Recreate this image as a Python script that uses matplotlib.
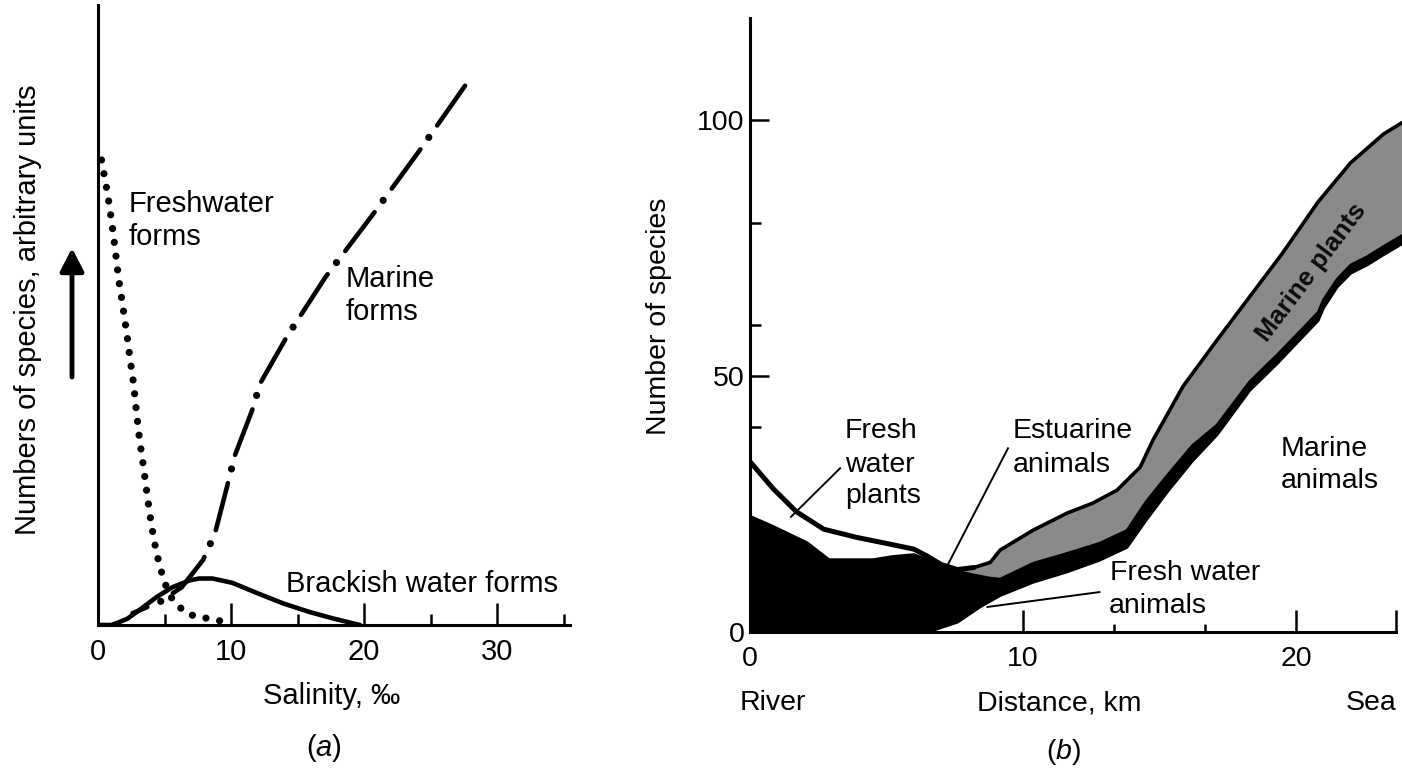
import numpy as np
import matplotlib
matplotlib.use('Agg')
import matplotlib.pyplot as plt

plt.rcParams['font.family'] = ['Liberation Sans', 'DejaVu Sans']
plt.rcParams['lines.scale_dashes'] = False
plt.rcParams['mathtext.fontset'] = 'custom'
plt.rcParams['mathtext.rm'] = 'Liberation Sans'
plt.rcParams['mathtext.it'] = 'Liberation Sans:italic'

# ---- panel (a): salinity vs number of species (arbitrary units)
fresh_x = [0.26, 0.71, 1.02, 1.28, 1.54, 1.84, 2.14, 2.41, 2.67, 2.89, 3.12, 3.42,
           3.72, 4.02, 4.40, 4.92, 5.38, 5.98, 6.65, 7.48, 8.53, 9.51]
fresh_y = [75.0, 69.7, 65.2, 60.8, 56.0, 51.8, 47.4, 42.9, 39.0, 34.4, 30.0, 25.5,
           20.6, 16.1, 11.6, 7.4, 4.8, 3.2, 1.9, 1.3, 1.0, 0.5]

marine_x = [2.6, 4.7, 6.3, 7.9, 8.8, 9.7, 10.3, 11.6, 12.2, 14.2, 17.1, 20.8, 24.3, 27.9]
marine_y = [1.9, 3.8, 6.1, 10.5, 14.8, 22.3, 27.4, 34.7, 39.0, 46.5, 56.1, 66.6, 76.9, 87.9]

brack_x = [0, 1.0, 1.4, 2.2, 3.1, 4.4, 5.6, 6.9, 7.6, 8.6, 10.1, 11.9, 13.9, 15.9, 17.6, 19.1, 19.7]
brack_y = [0, 0, 0.3, 1.0, 2.4, 4.5, 6.1, 7.2, 7.5, 7.5, 6.8, 5.2, 3.5, 2.1, 1.1, 0.3, 0]

# ---- panel (b): distance along estuary vs number of species
fwp_x = [0, 0.85, 1.7, 2.7, 3.9, 5.1, 6.0, 6.5, 7.0, 7.6, 8.2]
fwp_y = [33.3, 28.0, 23.5, 20.1, 18.5, 17.2, 16.2, 14.8, 13.2, 12.2, 12.6]

mplant_x = [7.6, 8.2, 8.8, 9.16, 10.37, 11.6, 12.56, 13.44, 14.29, 14.76, 15.86,
            17.1, 18.3, 19.5, 20.8, 22.0, 23.2, 23.9]
mplant_y = [12.2, 12.6, 13.6, 16.0, 19.9, 23.2, 25.2, 27.7, 32.2, 37.5, 48.0,
            57.0, 65.5, 74.0, 84.0, 91.7, 97.3, 99.6]

black_x = [0, 0.85, 2.1, 2.9, 4.5, 5.2, 6.0, 6.7, 7.4, 8.2, 8.8, 9.16, 10.37, 11.6,
           12.8, 13.8, 14.5, 15.3, 16.2, 17.1, 18.3, 19.3, 20.1, 20.8, 21.0, 21.5,
           22.0, 22.6, 23.2, 23.9]
black_y = [22.7, 20.7, 17.5, 14.2, 14.2, 14.8, 15.2, 13.8, 12.2, 11.2, 10.6, 10.4, 13.5, 15.4,
           17.4, 19.9, 25.5, 30.8, 36.5, 40.5, 49.0, 54.2, 58.6, 62.5, 65.0, 69.0,
           71.8, 73.4, 75.4, 77.6]

manim_x = [0, 6.2, 6.7, 7.6, 8.4, 9.16, 10.37, 11.6, 12.8, 13.8, 14.5, 15.3, 16.2,
           17.1, 18.3, 19.3, 20.1, 20.8, 21.0, 21.5, 22.0, 22.6, 23.2, 23.9]
manim_y = [0, 0, 0.4, 2.0, 4.9, 7.2, 9.8, 11.8, 14.1, 16.6, 21.9, 27.6, 33.5,
           38.6, 47.3, 52.5, 57.0, 60.9, 63.4, 67.5, 70.2, 71.8, 73.8, 76.0]

W, H = 1402, 768


def px_box(left, right, top, bottom):
    return [left / W, 1 - bottom / H, (right - left) / W, (bottom - top) / H]


def ftext(x, y, s, **kw):
    fig.text(x / W, 1 - y / H, s, **kw)


fig = plt.figure(figsize=(14.02, 7.68), dpi=100)

# ================= (a)
ax1 = fig.add_axes(px_box(98, 98 + 35.5 * 13.3, 5, 625))
ax1.set_xlim(0, 35.5)
ax1.set_ylim(0, 100)
for s in ['top', 'right']:
    ax1.spines[s].set_visible(False)
for s in ['left', 'bottom']:
    ax1.spines[s].set_linewidth(2.2)
ax1.set_yticks([])
ax1.set_xticks([0, 10, 20, 30])
ax1.set_xticks([5, 15, 25, 35], minor=True)
ax1.tick_params(axis='x', which='major', direction='in', length=16, width=1.8,
                pad=9, labelsize=21)
ax1.tick_params(axis='x', which='minor', direction='in', length=8, width=1.8)

ax1.plot(fresh_x, fresh_y, color='k', lw=5.2, linestyle=(0, (0.001, 10)),
         dash_capstyle='round', clip_on=False)
ax1.plot(marine_x, marine_y, color='k', lw=3.3, linestyle=(23.5, (35, 21)),
         dash_capstyle='round')
ax1.plot(marine_x, marine_y, color='k', lw=5.2, linestyle=(34, (0.001, 56)),
         dash_capstyle='round')
ax1.plot(brack_x, brack_y, color='k', lw=3.3, solid_capstyle='round',
         solid_joinstyle='round')

ax1.text(2.3, 66.6, 'Freshwater', fontsize=21, va='baseline')
ax1.text(2.3, 61.3, 'forms', fontsize=21, va='baseline')
ax1.text(18.65, 54.5, 'Marine', fontsize=21, va='baseline')
ax1.text(18.65, 49.2, 'forms', fontsize=21, va='baseline')
ax1.text(14.1, 5.3, 'Brackish water forms', fontsize=21, va='baseline')

ftext(28, 310, 'Numbers of species, arbitrary units', fontsize=21, rotation=90,
      ha='center', va='center')
fig.add_artist(matplotlib.patches.FancyArrowPatch(
    (72 / W, 1 - 377 / H), (72 / W, 1 - 248 / H), transform=fig.transFigure,
    arrowstyle='-|>,head_length=0.7,head_width=0.36', mutation_scale=20,
    lw=3.5, color='k', shrinkA=0, shrinkB=0))
ftext(332, 696, 'Salinity, \u2030', fontsize=21, ha='center', va='center')
ftext(324, 748, '($\\mathit{a}$)', fontsize=21, ha='center', va='center')

# ================= (b)
ax2 = fig.add_axes(px_box(750, 750 + 23.9 * 27.3, 18, 632))
ax2.set_xlim(0, 23.9)
ax2.set_ylim(0, 120)
for s in ['top', 'right']:
    ax2.spines[s].set_visible(False)
for s in ['left', 'bottom']:
    ax2.spines[s].set_linewidth(2.2)
ax2.spines['bottom'].set_bounds(0, 23.66)
ax2.set_xticks([0, 10, 20, 23.66], labels=['0', '10', '20', ''])
ax2.set_xticks([10 / 3, 20 / 3, 40 / 3, 50 / 3], minor=True)
ax2.set_yticks([0, 50, 100])
ax2.set_yticks([20, 40, 60, 80], minor=True)
ax2.tick_params(axis='x', which='major', direction='in', length=16, width=1.8,
                pad=10, labelsize=20.5)
ax2.tick_params(axis='x', which='minor', direction='in', length=6, width=1.8)
ax2.tick_params(axis='y', which='major', direction='in', length=14, width=1.8,
                pad=4, labelsize=20.5)
ax2.tick_params(axis='y', which='minor', direction='in', length=8, width=1.8)

bx = np.array(black_x)
by = np.array(black_y)
keep = bx >= 7.4
grey_x = np.concatenate([mplant_x, bx[keep][::-1]])
grey_y = np.concatenate([mplant_y, by[keep][::-1]])
ax2.fill(grey_x, grey_y, color='#8a8a8a', lw=0, zorder=1)

poly_x = np.concatenate([black_x, manim_x[::-1]])
poly_y = np.concatenate([black_y, manim_y[::-1]])
ax2.fill(poly_x, poly_y, facecolor='k', edgecolor='k', lw=1.5, zorder=2)

ax2.plot(fwp_x, fwp_y, color='k', lw=3.6, solid_joinstyle='round',
         solid_capstyle='round', zorder=3)
ax2.plot(mplant_x, mplant_y, color='k', lw=2.6, solid_joinstyle='round', zorder=3)
ax2.plot(manim_x, manim_y, color='k', lw=2.6, solid_joinstyle='round', zorder=3)

# pointer lines
ax2.plot([3.3, 1.5], [32.0, 22.5], color='k', lw=1.4, zorder=4)
ax2.plot([9.45, 7.25], [35.9, 13.2], color='k', lw=1.4, zorder=4)
ax2.plot([12.8, 8.7], [7.8, 4.9], color='k', lw=1.4, zorder=4)

ax2.text(3.48, 37.9, 'Fresh', fontsize=20.5, va='baseline')
ax2.text(3.48, 31.3, 'water', fontsize=20.5, va='baseline')
ax2.text(3.48, 25.2, 'plants', fontsize=20.5, va='baseline')
ax2.text(9.63, 37.9, 'Estuarine', fontsize=20.5, va='baseline')
ax2.text(9.63, 31.3, 'animals', fontsize=20.5, va='baseline')
ax2.text(19.45, 34.4, 'Marine', fontsize=20.5, va='baseline')
ax2.text(19.45, 28.1, 'animals', fontsize=20.5, va='baseline')
ax2.text(13.2, 10.2, 'Fresh water', fontsize=20.5, va='baseline')
ax2.text(13.15, 3.7, 'animals', fontsize=20.5, va='baseline')
ax2.text(20.55, 70.3, 'Marine plants', fontsize=18.5, fontweight='bold',
         color='#0d0d0d', rotation=53, ha='center', va='center',
         rotation_mode='anchor', zorder=5)

ftext(659, 316, 'Number of species', fontsize=20.5, rotation=90,
      ha='center', va='center')
ftext(740, 703, 'River', fontsize=20.5, ha='left', va='center')
ftext(1059, 703, 'Distance, km', fontsize=20.5, ha='center', va='center')
ftext(1396, 703, 'Sea', fontsize=20.5, ha='right', va='center')
ftext(1064, 752, '($\\mathit{b}$)', fontsize=20.5, ha='center', va='center')

fig.savefig('out.png', dpi=100, facecolor='white')
